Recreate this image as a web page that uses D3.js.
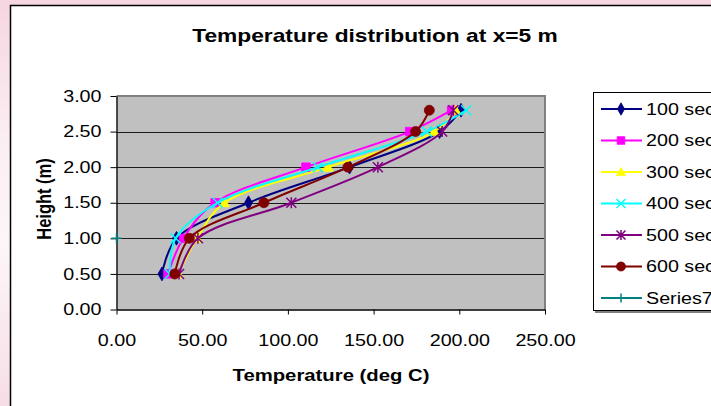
<!DOCTYPE html>
<html>
<head>
<meta charset="utf-8">
<script src="https://cdn.jsdelivr.net/npm/d3@7"></script>
<style>
  html, body { margin: 0; padding: 0; }
  body { width: 711px; height: 406px; overflow: hidden; background: #fff; }
  svg { display: block; font-family: "Liberation Sans", Arial, sans-serif; }
</style>
</head>
<body>
<svg id="chart" width="711" height="406"></svg>
<script>
// Sample heights (m) shared by the six time series
const heights = [0.5, 1.0, 1.5, 2.0, 2.5, 2.8];

// Temperatures (deg C) at each height, one array per time step
const temp100 = [26.5, 35.0, 77.0, 136.0, 188.5, 201.0];
const temp200 = [30.0, 39.0, 57.5, 110.5, 171.0, 195.5];
const temp300 = [36.0, 47.0, 63.0, 123.5, 185.5, 198.0];
const temp400 = [31.0, 34.5, 59.0, 117.5, 181.0, 204.0];
const temp500 = [36.5, 47.5, 102.0, 152.5, 190.0, 196.5];
const temp600 = [34.0, 42.5, 86.0, 135.0, 174.5, 182.5];

// Lone extra series
const series7Temp = [0];
const series7Height = [1.0];

const seriesNames = ["100 sec", "200 sec", "300 sec", "400 sec", "500 sec", "600 sec", "Series7"];
const xTicks = [0, 50, 100, 150, 200, 250];
const yTicks = [0, 0.5, 1.0, 1.5, 2.0, 2.5, 3.0];

const colors = ["#000080", "#FF00FF", "#FFFF00", "#00FFFF", "#800080", "#800000", "#008080"];
const markers = ["diamond", "square", "triangle", "x", "star", "circle", "plus"];

const series = [
  { name: seriesNames[0], t: temp100, h: heights },
  { name: seriesNames[1], t: temp200, h: heights },
  { name: seriesNames[2], t: temp300, h: heights },
  { name: seriesNames[3], t: temp400, h: heights },
  { name: seriesNames[4], t: temp500, h: heights },
  { name: seriesNames[5], t: temp600, h: heights },
  { name: seriesNames[6], t: series7Temp, h: series7Height }
].map((s, i) => ({ ...s, color: colors[i], marker: markers[i],
  pts: s.t.map((t, j) => ({ t, h: s.h[j] })) }));

const svg = d3.select("#chart");
const TEXT_STRETCH = 1.23;

// soft pink backdrop around the chart frame
const defs = svg.append("defs");
const bg = defs.append("linearGradient").attr("id", "bgGrad")
  .attr("x1", 0).attr("y1", 0).attr("x2", 0).attr("y2", 1);
bg.append("stop").attr("offset", "0%").attr("stop-color", "#f6d6e0");
bg.append("stop").attr("offset", "35%").attr("stop-color", "#fbeef2");
bg.append("stop").attr("offset", "60%").attr("stop-color", "#fdf6f8");
bg.append("stop").attr("offset", "100%").attr("stop-color", "#f6dde6");
svg.append("rect").attr("width", 711).attr("height", 406).attr("fill", "url(#bgGrad)");

// chart frame
svg.append("rect")
  .attr("x", 10.5).attr("y", 5.5).attr("width", 720).attr("height", 420)
  .attr("fill", "#fff").attr("stroke", "#000").attr("stroke-width", 1.5);

const plot = { left: 116.5, right: 545, top: 96, bottom: 309.5 };

const x = d3.scaleLinear().domain([0, 250]).range([plot.left, plot.right]);
const y = d3.scaleLinear().domain([0, 3]).range([plot.bottom, plot.top]);

// plot area
svg.append("rect")
  .attr("x", plot.left).attr("y", plot.top)
  .attr("width", plot.right - plot.left).attr("height", plot.bottom - plot.top)
  .attr("fill", "#C0C0C0");

// horizontal gridlines
svg.append("g").selectAll("line")
  .data(yTicks.filter(v => v > 0 && v < 3))
  .join("line")
  .attr("x1", plot.left).attr("x2", plot.right)
  .attr("y1", d => Math.round(y(d)) + 0.5).attr("y2", d => Math.round(y(d)) + 0.5)
  .attr("stroke", "#1a1a1a").attr("stroke-width", 1);

// gray border on top and right of plot
svg.append("path")
  .attr("d", `M${plot.left},${plot.top}H${plot.right}V${plot.bottom}`)
  .attr("fill", "none").attr("stroke", "#808080").attr("stroke-width", 2);

// axes
const yAxis = svg.append("g")
  .attr("transform", `translate(${plot.left},0)`)
  .call(d3.axisLeft(y).tickValues(yTicks).tickFormat(d3.format(".2f"))
    .tickSize(6).tickPadding(9).tickSizeOuter(0));
const xAxis = svg.append("g")
  .attr("transform", `translate(0,${plot.bottom})`)
  .call(d3.axisBottom(x).tickValues(xTicks).tickFormat(d3.format(".2f"))
    .tickSize(5).tickPadding(20).tickSizeOuter(0));
[yAxis, xAxis].forEach(a => {
  a.select(".domain").attr("stroke", "#000").attr("stroke-width", 1.3);
  a.selectAll(".tick line").attr("stroke", "#000");
  a.selectAll(".tick text").attr("fill", "#000")
    .style("font-family", "'Liberation Sans', Arial, sans-serif").style("font-size", "16px");
});

// marker shapes
function markerPath(type, size) {
  const r = size / 2;
  switch (type) {
    case "diamond": return d3.symbol(d3.symbolDiamond, size * size * 0.55)();
    case "square": return `M${-r * 0.85},${-r * 0.85}h${r * 1.7}v${r * 1.7}h${-r * 1.7}Z`;
    case "triangle": return `M0,${-r}L${r},${r * 0.8}L${-r},${r * 0.8}Z`;
    case "circle": return d3.symbol(d3.symbolCircle, Math.PI * r * r)();
    case "x": return `M${-r},${-r}L${r},${r}M${-r},${r}L${r},${-r}`;
    case "star": return `M${-r},${-r}L${r},${r}M${-r},${r}L${r},${-r}M0,${-r * 1.1}V${r * 1.1}`;
    case "plus": return `M${-r},0H${r}M0,${-r}V${r}`;
  }
}
const stroked = t => t === "x" || t === "star" || t === "plus";

function drawMarker(g, type, color, cx, cy, size) {
  g.append("path")
    .attr("d", markerPath(type, size))
    .attr("transform", `translate(${cx},${cy})`)
    .attr("fill", stroked(type) ? "none" : color)
    .attr("stroke", color)
    .attr("stroke-width", stroked(type) ? 1.5 : 0.8);
}

// series lines with smoothing, then markers
const line = d3.line().x(d => x(d.t)).y(d => y(d.h)).curve(d3.curveCatmullRom.alpha(0.5));
const seriesG = svg.append("g");
series.forEach(s => {
  const g = seriesG.append("g");
  if (s.pts.length > 1) {
    g.append("path").attr("d", line(s.pts))
      .attr("fill", "none").attr("stroke", s.color).attr("stroke-width", 2);
  }
  s.pts.forEach(p => drawMarker(g, s.marker, s.color, x(p.t), y(p.h), 10));
});

// title
svg.append("text")
  .attr("x", 375).attr("y", 42)
  .attr("text-anchor", "middle")
  .style("font-size", "18.5px").style("font-weight", "bold")
  .text("Temperature distribution at x=5 m");

// axis titles
svg.append("text")
  .attr("x", 331).attr("y", 381)
  .attr("text-anchor", "middle")
  .style("font-size", "16.5px").style("font-weight", "bold")
  .text("Temperature (deg C)");

svg.append("text")
  .attr("class", "ytitle")
  .attr("transform", `translate(44,199) rotate(-90) scale(1,${TEXT_STRETCH})`)
  .attr("text-anchor", "middle").attr("dy", "0.36em")
  .style("font-size", "16.5px").style("font-weight", "bold")
  .text("Height (m)");

// legend
const legend = svg.append("g");
legend.append("rect")
  .attr("x", 595).attr("y", 94).attr("width", 130).attr("height", 219)
  .attr("fill", "#808080");
legend.append("rect")
  .attr("x", 593.5).attr("y", 92.5).attr("width", 130).attr("height", 218)
  .attr("fill", "#fff").attr("stroke", "#000").attr("stroke-width", 1);
series.forEach((s, i) => {
  const ly = 109 + i * 31.5;
  legend.append("line")
    .attr("x1", 601).attr("x2", 642).attr("y1", ly).attr("y2", ly)
    .attr("stroke", s.color).attr("stroke-width", 2);
  drawMarker(legend, s.marker, s.color, 621, ly, 9);
  legend.append("text")
    .attr("x", 646).attr("y", ly).attr("dy", "0.35em")
    .style("font-size", "16px")
    .text(s.name);
});

// widen glyphs horizontally to the chart's type proportions
svg.selectAll("text").filter(function () { return !this.classList.contains("ytitle"); })
  .each(function () {
    const w = this.getComputedTextLength();
    this.setAttribute("textLength", w * TEXT_STRETCH);
    this.setAttribute("lengthAdjust", "spacingAndGlyphs");
  });
</script>
</body>
</html>
